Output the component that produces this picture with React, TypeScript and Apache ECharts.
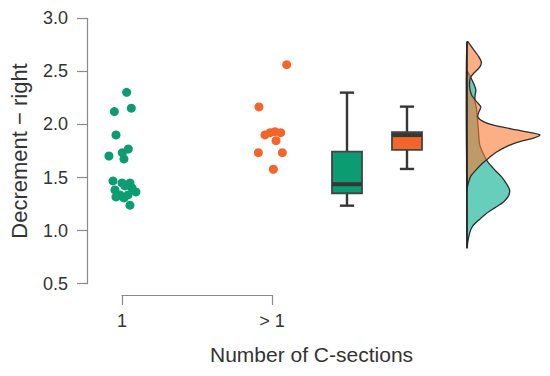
import React, { useEffect, useRef } from "react";
import * as echarts from "echarts";

// ---- data ----
const xTickLabels = ["1", "> 1"];
const yTicks = [0.5, 1.0, 1.5, 2.0, 2.5, 3.0];

// group "1" (jittered x around 1)
const group1X = [1.031, 1.062, 0.949, 0.96, 1.042, 0.913, 1.002, 1.013, 0.94, 1.0, 1.053, 0.953, 1.02, 1.067, 0.987, 1.04, 1.093, 0.96, 1.013, 1.053];
const group1Y = [2.303, 2.153, 2.121, 1.901, 1.769, 1.703, 1.734, 1.675, 1.468, 1.449, 1.449, 1.383, 1.421, 1.402, 1.336, 1.336, 1.364, 1.317, 1.308, 1.24];

// group "> 1" (jittered x around 2)
const group2X = [2.098, 1.913, 1.953, 1.987, 2.02, 2.058, 2.027, 1.909, 2.069, 2.009];
const group2Y = [2.563, 2.165, 1.901, 1.923, 1.932, 1.923, 1.847, 1.734, 1.734, 1.578];

// boxplots: [min, Q1, median, Q3, max]
const boxPositions = [2.5, 2.9];
const boxStats = [
  [1.235, 1.352, 1.437, 1.744, 2.3],
  [1.581, 1.76, 1.9, 1.927, 2.168],
];

// densities (value, density)
const densGreenY = [2.5, 2.44, 2.38, 2.325, 2.27, 2.21, 2.155, 2.1, 2.04, 1.95, 1.807, 1.713, 1.647, 1.572, 1.506, 1.44, 1.383, 1.327, 1.27, 1.214, 1.157, 1.101, 1.044, 0.988, 0.912, 0.837];
const densGreenD = [0, 0.14, 0.25, 0.32, 0.29, 0.29, 0.34, 0.36, 0.38, 0.41, 0.46, 0.61, 0.75, 1.0, 1.25, 1.43, 1.54, 1.5, 1.32, 1.0, 0.68, 0.43, 0.21, 0.11, 0.04, 0];
const densOrangeY = [2.777, 2.7, 2.636, 2.58, 2.53, 2.485, 2.44, 2.38, 2.325, 2.27, 2.21, 2.165, 2.118, 2.07, 2.024, 1.986, 1.949, 1.92, 1.9, 1.873, 1.845, 1.8, 1.74, 1.685, 1.63, 1.57, 1.515, 1.45, 1.4];
const densOrangeD = [0, 0.25, 0.43, 0.52, 0.43, 0.25, 0.12, 0.09, 0.11, 0.18, 0.36, 0.5, 0.43, 0.39, 0.61, 1.07, 1.79, 2.36, 2.64, 2.43, 2.0, 1.5, 1.07, 0.79, 0.54, 0.32, 0.14, 0.05, 0];
const densBaseline = [2.777, 0.837];

const GREEN = "#0c9c72";
const ORANGE = "#f4652b";
const DARK = "#363636";
const AXIS = "#8a8a8a";
const FONT = "Liberation Sans";

export default function App() {
  const ref = useRef<HTMLDivElement>(null);

  useEffect(() => {
    document.body.style.margin = "0";
    if (!ref.current) return;
    const chart = echarts.init(ref.current, undefined, { renderer: "svg" });

    const densityItem = (ys: number[], ds: number[], fill: string) => (params: any, api: any) => {
      const pts = ys.map((v, i) => api.coord([ds[i], v]));
      return {
        type: "polygon",
        shape: { points: pts, smooth: 0.25 },
        style: { fill, stroke: "#2e2e2e", lineWidth: 1.3 },
      };
    };

    const option: any = {
      animation: false,
      backgroundColor: "#ffffff",
      textStyle: { fontFamily: FONT },
      grid: [
        { left: 87, top: 18.3, width: 380, height: 265.4 },
        { left: 467, top: 18.3, width: 84, height: 265.4 },
        { left: 122, top: 294, width: 150, height: 1 },
      ],
      xAxis: [
        { gridIndex: 0, type: "value", min: 0.76667, max: 3.3, show: false },
        { gridIndex: 1, type: "value", min: 0, max: 3, show: false },
        {
          gridIndex: 2,
          type: "value",
          min: 1,
          max: 2,
          interval: 1,
          axisLine: { show: true, lineStyle: { color: AXIS, width: 1.2 } },
          axisTick: { show: true, length: 10, lineStyle: { color: AXIS, width: 1.2 } },
          splitLine: { show: false },
          axisLabel: {
            margin: 17,
            fontSize: 18,
            color: "#333",
            fontFamily: FONT,
            formatter: (v: number) => xTickLabels[Math.round(v) - 1] ?? "",
          },
        },
      ],
      yAxis: [
        {
          gridIndex: 0,
          type: "value",
          min: yTicks[0],
          max: yTicks[yTicks.length - 1],
          interval: 0.5,
          name: "Decrement \u2212 right",
          nameLocation: "middle",
          nameGap: 57,
          nameTextStyle: { fontSize: 22, color: "#333", fontFamily: FONT },
          axisLine: { show: true, lineStyle: { color: AXIS, width: 1.2 } },
          axisTick: { show: true, length: 10, lineStyle: { color: AXIS, width: 1.2 } },
          splitLine: { show: false },
          axisLabel: {
            margin: 19,
            fontSize: 18,
            color: "#333",
            fontFamily: FONT,
            formatter: (v: number) => v.toFixed(1),
          },
        },
        { gridIndex: 1, type: "value", min: 0.5, max: 3, show: false },
        { gridIndex: 2, type: "value", min: 0, max: 1, show: false },
      ],
      graphic: [
        {
          type: "text",
          left: 210,
          top: 344,
          style: {
            text: "Number of C-sections",
            fontSize: 21,
            fill: "#333",
            fontFamily: FONT,
          },
        },
      ],
      series: [
        {
          type: "scatter",
          xAxisIndex: 0,
          yAxisIndex: 0,
          symbolSize: 9,
          itemStyle: { color: GREEN, opacity: 1 },
          data: group1X.map((x, i) => [x, group1Y[i]]),
        },
        {
          type: "scatter",
          xAxisIndex: 0,
          yAxisIndex: 0,
          symbolSize: 9,
          itemStyle: { color: ORANGE, opacity: 1 },
          data: group2X.map((x, i) => [x, group2Y[i]]),
        },
        {
          type: "custom",
          xAxisIndex: 0,
          yAxisIndex: 0,
          data: boxStats.map((s, i) => [boxPositions[i], ...s]),
          encode: { x: 0, y: [1, 2, 3, 4, 5] },
          renderItem: (params: any, api: any) => {
            const pos = api.value(0);
            const lo = api.value(1), q1 = api.value(2), med = api.value(3), q3 = api.value(4), hi = api.value(5);
            const halfW = api.size([0.2, 0])[0] / 2;
            const capHalf = api.size([0.095, 0])[0] / 2;
            const cx = api.coord([pos, med])[0];
            const yLo = api.coord([pos, lo])[1];
            const yQ1 = api.coord([pos, q1])[1];
            const yMed = api.coord([pos, med])[1];
            const yQ3 = api.coord([pos, q3])[1];
            const yHi = api.coord([pos, hi])[1];
            const fill = params.dataIndex === 0 ? GREEN : ORANGE;
            const ls = { stroke: DARK, lineWidth: 2.4 };
            return {
              type: "group",
              children: [
                { type: "line", shape: { x1: cx, y1: yHi, x2: cx, y2: yQ3 }, style: ls },
                { type: "line", shape: { x1: cx, y1: yQ1, x2: cx, y2: yLo }, style: ls },
                { type: "line", shape: { x1: cx - capHalf, y1: yHi, x2: cx + capHalf, y2: yHi }, style: ls },
                { type: "line", shape: { x1: cx - capHalf, y1: yLo, x2: cx + capHalf, y2: yLo }, style: ls },
                {
                  type: "rect",
                  shape: { x: cx - halfW, y: yQ3, width: halfW * 2, height: yQ1 - yQ3 },
                  style: { fill, stroke: "#444", lineWidth: 1.8 },
                },
                {
                  type: "line",
                  shape: { x1: cx - halfW, y1: yMed, x2: cx + halfW, y2: yMed },
                  style: { stroke: DARK, lineWidth: 4 },
                },
              ],
            };
          },
        },
        {
          type: "custom",
          xAxisIndex: 1,
          yAxisIndex: 1,
          data: [[0, 2]],
          renderItem: densityItem(densGreenY, densGreenD, "rgba(20,180,150,0.65)"),
        },
        {
          type: "custom",
          xAxisIndex: 1,
          yAxisIndex: 1,
          data: [[0, 2]],
          renderItem: densityItem(densOrangeY, densOrangeD, "rgba(250,120,50,0.6)"),
        },
        {
          type: "custom",
          xAxisIndex: 1,
          yAxisIndex: 1,
          data: [[0, 2]],
          renderItem: (params: any, api: any) => {
            const a = api.coord([0, densBaseline[0]]);
            const b = api.coord([0, densBaseline[1]]);
            return {
              type: "line",
              shape: { x1: a[0], y1: a[1], x2: b[0], y2: b[1] },
              style: { stroke: "#222", lineWidth: 1.6 },
            };
          },
        },
      ],
    };

    chart.setOption(option);
    return () => chart.dispose();
  }, []);

  return <div ref={ref} style={{ width: 550, height: 376 }} />;
}
